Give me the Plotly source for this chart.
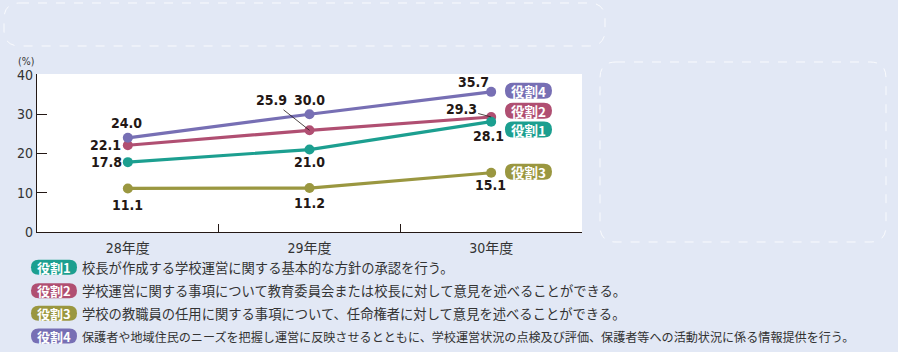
import plotly.graph_objects as go

# ---- data ----
categories = ["28年度", "29年度", "30年度"]
role1 = [17.8, 21.0, 28.1]
role2 = [22.1, 25.9, 29.3]
role3 = [11.1, 11.2, 15.1]
role4 = [24.0, 30.0, 35.7]
y_ticks = [0, 10, 20, 30, 40]
role_names = ["役割1", "役割2", "役割3", "役割4"]
role_texts = [
    "校長が作成する学校運営に関する基本的な方針の承認を行う。",
    "学校運営に関する事項について教育委員会または校長に対して意見を述べることができる。",
    "学校の教職員の任用に関する事項について、任命権者に対して意見を述べることができる。",
    "保護者や地域住民のニーズを把握し運営に反映させるとともに、学校運営状況の点検及び評価、保護者等への活動状況に係る情報提供を行う。",
]

# ---- styles ----
C1, C2, C3, C4 = "#1c9f90", "#b04f72", "#9a9740", "#776fb4"
colors = {"役割1": C1, "役割2": C2, "役割3": C3, "役割4": C4}
BG = "#e2e8f5"
TXT = "#333333"
NUMFONT = "Liberation Sans Narrow, DejaVu Sans Condensed, sans-serif"
JPFONT = "Noto Sans CJK JP, sans-serif"

W, H = 898, 352
ML, MR, MT, MB = 37, 316, 74, 120
PW, PH = W - ML - MR, H - MT - MB


def px(p):
    return (p - ML) / PW


def py(p):
    return (H - MB - p) / PH


def rrect(x0, y0, x1, y1, r):
    pts = [
        ("M", [(x0 + r, y0)]),
        ("L", [(x1 - r, y0)]),
        ("Q", [(x1, y0), (x1, y0 + r)]),
        ("L", [(x1, y1 - r)]),
        ("Q", [(x1, y1), (x1 - r, y1)]),
        ("L", [(x0 + r, y1)]),
        ("Q", [(x0, y1), (x0, y1 - r)]),
        ("L", [(x0, y0 + r)]),
        ("Q", [(x0, y0), (x0 + r, y0)]),
    ]
    s = ""
    for cmd, ps in pts:
        s += cmd + " " + " ".join(f"{px(a):.5f},{py(b):.5f}" for a, b in ps) + " "
    return s + "Z"


fig = go.Figure()

series = [("役割2", role2), ("役割4", role4), ("役割3", role3), ("役割1", role1)]
for name, vals in series:
    fig.add_trace(go.Scatter(
        x=categories, y=vals, mode="lines+markers", name=name,
        line=dict(color=colors[name], width=3.2),
        marker=dict(color=colors[name], size=10),
        hoverinfo="skip", showlegend=False, cliponaxis=False,
    ))

LBLFONT = dict(family=NUMFONT, size=14, color="#231815", weight="bold")

# data labels: (series values, index, xshift, yshift)
label_specs = [
    (role4, 0, -1, 15), (role2, 0, -22, 0), (role1, 0, -21, 0), (role3, 0, 0, -17),
    (role4, 1, 0, 14), (role1, 1, 0, -12), (role3, 1, 0, -15),
    (role4, 2, -18, 10), (role1, 2, -3, -14), (role3, 2, -1, -12),
]
annotations = []
for vals, i, dx, dy in label_specs:
    annotations.append(dict(
        x=categories[i], y=vals[i], xref="x", yref="y", text=f"{vals[i]:.1f}",
        showarrow=False, xshift=dx, yshift=dy, xanchor="center", yanchor="middle",
        font=LBLFONT,
    ))
# leader-line labels
for vals, i, ax, ay in [(role2, 1, -38, -30), (role2, 2, -30, -8)]:
    annotations.append(dict(
        x=categories[i], y=vals[i], xref="x", yref="y", text=f"{vals[i]:.1f}",
        showarrow=True, arrowhead=0, arrowwidth=0.8, arrowcolor="#231815",
        ax=ax, ay=ay, standoff=0, xanchor="center", yanchor="middle",
        font=LBLFONT,
    ))

annotations.append(dict(
    x=px(26), y=py(61), xref="paper", yref="paper", text="(%)", showarrow=False,
    xanchor="center", yanchor="middle",
    font=dict(family=NUMFONT, size=10.5, color=TXT),
))

shapes = []
# decorative dashed boxes in background
shapes.append(dict(type="path", path=rrect(4, 3, 605, 46, 16), xref="paper", yref="paper",
                   line=dict(color="rgba(255,255,255,0.8)", width=1, dash="dash"), layer="below"))
shapes.append(dict(type="path", path=rrect(600, 62, 886, 242, 16), xref="paper", yref="paper",
                   line=dict(color="rgba(255,255,255,0.8)", width=1, dash="dash"), layer="below"))

# right-side pills
right_pills = {"役割4": 90.8, "役割2": 110.8, "役割1": 129.5, "役割3": 171.7}
for name, cy in right_pills.items():
    shapes.append(dict(type="path", path=rrect(505, cy - 8, 552, cy + 8, 8),
                       xref="paper", yref="paper", fillcolor=colors[name],
                       line=dict(width=0)))
    annotations.append(dict(
        x=px(528.5), y=py(cy), xref="paper", yref="paper", text=name, showarrow=False,
        xanchor="center", yanchor="middle",
        font=dict(family=JPFONT, size=13.5, color="white", weight="bold"),
    ))

# bottom legend
rows_y = [267.3, 290.8, 313.3, 336.0]
row_sizes = [13.3, 13.3, 13.3, 12.1]
for name, txt, cy, fs in zip(role_names, role_texts, rows_y, row_sizes):
    shapes.append(dict(type="path", path=rrect(31, cy - 7.5, 77, cy + 7.5, 7.5),
                       xref="paper", yref="paper", fillcolor=colors[name],
                       line=dict(width=0)))
    annotations.append(dict(
        x=px(54), y=py(cy), xref="paper", yref="paper", text=name, showarrow=False,
        xanchor="center", yanchor="middle",
        font=dict(family=JPFONT, size=13, color="white", weight="bold"),
    ))
    annotations.append(dict(
        x=px(80), y=py(cy), xref="paper", yref="paper", text=txt, showarrow=False,
        xanchor="left", yanchor="middle", font=dict(family=JPFONT, size=fs, color=TXT),
    ))

fig.update_layout(
    width=W, height=H,
    margin=dict(l=ML, r=MR, t=MT, b=MB, pad=0),
    paper_bgcolor=BG, plot_bgcolor="white",
    annotations=annotations, shapes=shapes,
    xaxis=dict(
        type="category", range=[-0.5, 2.5], tickson="boundaries",
        ticks="inside", ticklen=8, tickwidth=1, tickcolor="#231815",
        showline=True, linecolor="#231815", linewidth=1.3, showgrid=False,
        tickfont=dict(family=NUMFONT + ", " + JPFONT, size=14, color=TXT),
        ticklabelstandoff=3,
        zeroline=False, fixedrange=True,
    ),
    yaxis=dict(
        range=[0, 40.25], tickvals=y_ticks,
        ticks="inside", ticklen=10, tickwidth=1, tickcolor="#231815",
        showline=True, linecolor="#231815", linewidth=1.3, showgrid=False,
        zeroline=False,
        tickfont=dict(family=NUMFONT, size=14, color=TXT), fixedrange=True,
    ),
)

fig.write_html("out.html", config={"displayModeBar": False})
